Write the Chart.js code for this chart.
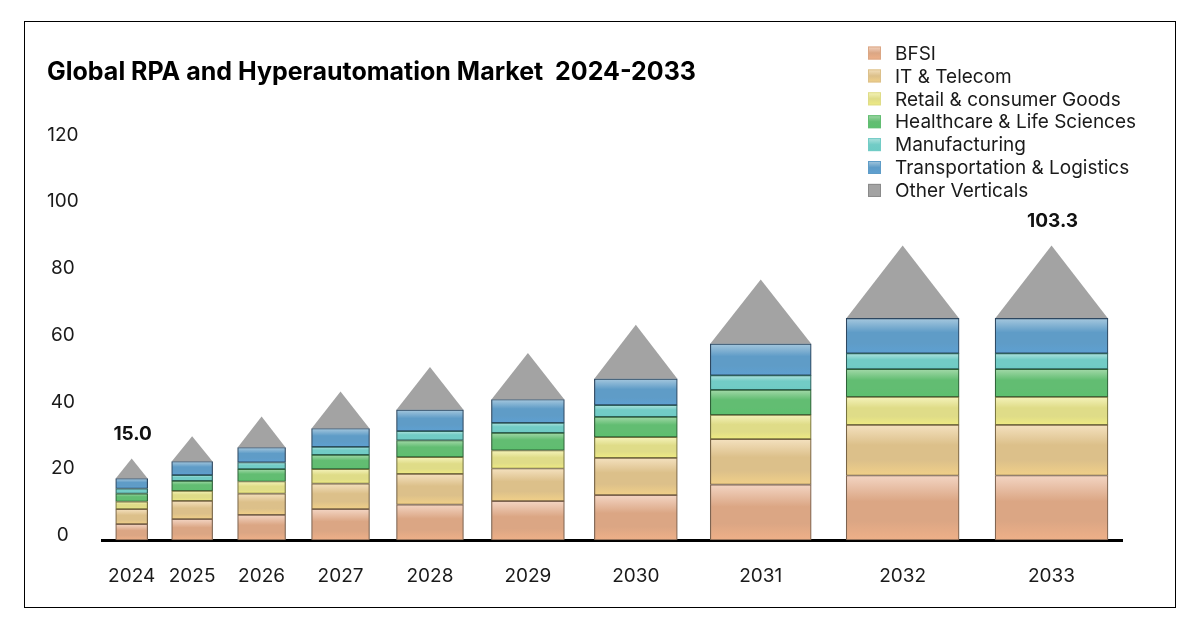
<!DOCTYPE html>
<html>
<head>
<meta charset="utf-8">
<title>Global RPA and Hyperautomation Market 2024-2033</title>
<script src="https://cdn.jsdelivr.net/npm/chart.js@4.4.1/dist/chart.umd.min.js"></script>
<style>
  html, body { margin: 0; padding: 0; background: #fff; }
  #wrap { position: relative; width: 1200px; height: 628px; }
  #frame {
    position: absolute; left: 24px; top: 21px;
    width: 1152px; height: 587px;
    border: 1px solid #000; box-sizing: border-box;
  }
  #chart { position: absolute; left: 0; top: 0; }
</style>
</head>
<body>
<div id="wrap">
  <div id="frame"></div>
  <canvas id="chart" width="1200" height="628"></canvas>
</div>
<script>
// Chart data
const years = ["2024", "2025", "2026", "2027", "2028", "2029", "2030", "2031", "2032", "2033"];

const bfsi          = [4.8, 6.3, 7.6, 9.3, 10.7, 11.7, 13.5, 16.7, 19.4, 19.4];
const itTelecom     = [4.5, 5.5, 6.4, 7.7, 9.2, 9.8, 11.2, 13.6, 15.2, 15.2];
const retail        = [2.3, 3.0, 3.6, 4.3, 5.0, 5.4, 6.2, 7.3, 8.4, 8.4];
const healthcare    = [2.4, 3.0, 3.7, 4.3, 5.0, 5.3, 6.1, 7.5, 8.3, 8.3];
const manufacturing = [1.5, 1.7, 2.0, 2.4, 2.8, 3.0, 3.5, 4.3, 4.7, 4.7];
const transport     = [3.0, 4.1, 4.5, 5.5, 6.4, 7.0, 7.9, 9.5, 10.5, 10.5];
const otherVerticals = [6.0, 7.6, 9.3, 11.1, 12.8, 13.9, 16.2, 19.3, 21.9, 21.9];

// market size labels shown above the first and last bar
const marketSize = [15.0, null, null, null, null, null, null, null, null, 103.3];

const yTicks = [0, 20, 40, 60, 80, 100, 120];

const seriesNames = [
  "BFSI", "IT & Telecom", "Retail & consumer Goods", "Healthcare & Life Sciences",
  "Manufacturing", "Transportation & Logistics", "Other Verticals"
];
const seriesValues = [bfsi, itTelecom, retail, healthcare, manufacturing, transport, otherVerticals];


// Styles: [top, middle, bottom, border]
const shades = [
  ["#f3d5c3", "#dba684", "#efb088", "#7d6350"],
  ["#f4e1bf", "#dcc08a", "#f1d088", "#786445"],
  ["#f5f3bb", "#dfdc88", "#efeb82", "#77743f"],
  ["#a3d9a9", "#62bd72", "#5cc06e", "#2e6138"],
  ["#b0e3df", "#72ccc6", "#6ccbc4", "#2e5f5c"],
  ["#a6c8de", "#5f9cc7", "#5ea0d2", "#2d4760"],
  ["#a3a3a3", "#a3a3a3", "#a3a3a3", "#a3a3a3"],
];

// bar widths grow with the market; widths and gaps in axis units
const barWidths = [32, 41, 48, 58, 67, 73, 83, 101, 113, 113];
const barGaps = [24, 25, 26, 27, 28, 30, 33, 35, 36];
const edgeGap = 13;
const axisSpan = 1020;

const centers = [];
let cursor = edgeGap;
barWidths.forEach((w, i) => {
  centers.push(cursor + w / 2);
  cursor += w + (barGaps[i] || 0);
});

const FONT = "Inter, 'Noto Sans', sans-serif";


function segmentGradient(ctx) {
  const chart = ctx.chart;
  const s = shades[ctx.datasetIndex];
  if (!chart.chartArea || ctx.dataIndex === undefined) return s[1];
  const yScale = chart.scales.y;
  let base = 0;
  for (let d = 0; d < ctx.datasetIndex; d++) base += seriesValues[d][ctx.dataIndex];
  const top = base + seriesValues[ctx.datasetIndex][ctx.dataIndex];
  const y0 = yScale.getPixelForValue(top);
  const y1 = yScale.getPixelForValue(base);
  const g = chart.ctx.createLinearGradient(0, y0, 0, y1);
  g.addColorStop(0, s[0]);
  g.addColorStop(0.4, s[1]);
  g.addColorStop(0.7, s[1]);
  g.addColorStop(1, s[2]);
  return g;
}


// give every column its own width
const barWidthPlugin = {
  id: "barWidths",
  afterDatasetsUpdate(chart) {
    const xs = chart.scales.x;
    chart.data.datasets.forEach((ds, di) => {
      chart.getDatasetMeta(di).data.forEach((bar, i) => {
        bar.width = xs.getPixelForValue(centers[i] + barWidths[i] / 2) -
                    xs.getPixelForValue(centers[i] - barWidths[i] / 2);
      });
    });
  },
};

// "Other Verticals" is drawn as a roof on each column
const roofPlugin = {
  id: "roof",
  beforeDatasetDraw(chart, args) {
    if (args.index !== 6) return;
    const c = chart.ctx;
    c.save();
    c.fillStyle = shades[6][0];
    args.meta.data.forEach((bar) => {
      c.beginPath();
      c.moveTo(bar.x - bar.width / 2, bar.base);
      c.lineTo(bar.x, bar.y);
      c.lineTo(bar.x + bar.width / 2, bar.base);
      c.closePath();
      c.fill();
    });
    c.restore();
    return false;
  },
  afterDatasetsDraw(chart) {
    const c = chart.ctx;
    const meta = chart.getDatasetMeta(6);
    c.save();
    c.font = "bold 19px " + FONT;
    c.fillStyle = "#111";
    c.textAlign = "center";
    c.textBaseline = "middle";
    marketSize.forEach((v, i) => {
      if (v === null) return;
      const bar = meta.data[i];
      c.fillText(v.toFixed(1), bar.x + 1, bar.y - 24);
    });
    c.restore();
  },
};

// legend in the top right corner
const cornerLegend = {
  id: "cornerLegend",
  afterDraw(chart) {
    const c = chart.ctx;
    const x = 868, y0 = 53, step = 22.9, box = 13;
    c.save();
    c.font = "19px " + FONT;
    c.textBaseline = "middle";
    c.textAlign = "left";
    seriesNames.forEach((name, i) => {
      const y = y0 + i * step;
      const s = shades[i];
      const g = c.createLinearGradient(0, y - box / 2, 0, y + box / 2);
      g.addColorStop(0, s[0]);
      g.addColorStop(0.5, s[1]);
      g.addColorStop(1, s[2]);
      c.fillStyle = g;
      c.fillRect(x, y - box / 2, box, box);
      c.strokeStyle = i === 6 ? "#8a8a8a" : s[1];
      c.lineWidth = 1;
      c.strokeRect(x + 0.5, y - box / 2 + 0.5, box - 1, box - 1);
      c.fillStyle = "#1a1a1a";
      c.fillText(name, x + 27, y + 1);
    });
    c.restore();
  },
};


new Chart(document.getElementById("chart"), {
  type: "bar",
  data: {
    datasets: seriesNames.map((name, di) => ({
      label: name,
      data: seriesValues[di].map((v, i) => ({ x: centers[i], y: v })),
      backgroundColor: segmentGradient,
      borderColor: shades[di][3],
      borderWidth: di === 6 ? 0 : 1.2,
      borderSkipped: false,
      barThickness: 20,
    })),
  },
  options: {
    responsive: false,
    animation: false,
    events: [],
    layout: { padding: { left: 47, right: 78, top: 0, bottom: 40 } },
    scales: {
      x: {
        type: "linear",
        stacked: true,
        offset: false,
        min: 0,
        max: axisSpan,
        afterBuildTicks: (scale) => {
          scale.ticks = centers.map((v) => ({ value: v }));
        },
        // chart.js reserves the tick padding twice, keep it once
        afterFit: (scale) => { scale.height -= 25; },
        ticks: {
          callback: (v, i) => years[i],
          autoSkip: false,
          maxRotation: 0,
          padding: 25,
          color: "#1a1a1a",
          font: { family: FONT, size: 19 },
        },
        grid: { display: false, drawTicks: false },
        border: { display: true, color: "#000", width: 3 },
      },
      y: {
        stacked: true,
        min: 0,
        max: 120,
        afterBuildTicks: (scale) => {
          scale.ticks = yTicks.map((v) => ({ value: v }));
        },
        afterFit: (scale) => { scale.width -= 24; },
        ticks: {
          crossAlign: "center",
          padding: 24,
          labelOffset: -5,
          color: "#1a1a1a",
          font: { family: FONT, size: 19 },
        },
        grid: { display: false, drawTicks: false },
        border: { display: false },
      },
    },
    plugins: {
      legend: { display: false },
      tooltip: { enabled: false },
      title: {
        display: true,
        text: "Global RPA and Hyperautomation Market  2024-2033",
        align: "start",
        color: "#000",
        font: { family: FONT, size: 25, weight: "bold" },
        padding: { top: 57, bottom: 53 },
      },
    },
  },
  plugins: [barWidthPlugin, roofPlugin, cornerLegend],
});
</script>
</body>
</html>
